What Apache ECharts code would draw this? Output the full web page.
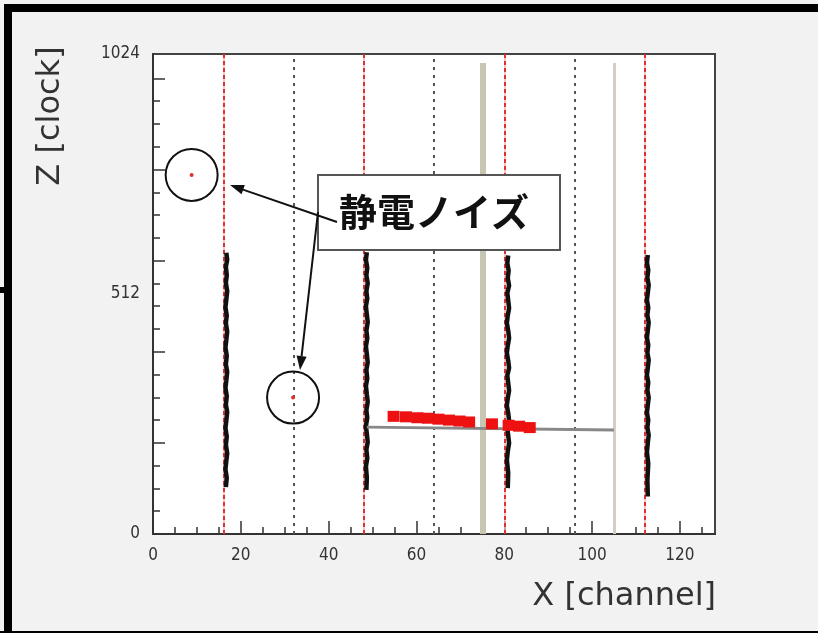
<html>
<head>
<meta charset="utf-8">
<title>静電ノイズ</title>
<script src="https://cdn.jsdelivr.net/npm/echarts@6/dist/echarts.min.js"></script>
<style>
body { margin: 0; background: #f2f2f2; }
#chart { width: 818px; height: 633px; }
</style>
</head>
<body>
<div id="chart"></div>
<script>
// 軸の目盛り
var xLabels = [0, 20, 40, 60, 80, 100, 120];
var xMinor = [5, 10, 15, 25, 30, 35, 45, 50, 55, 65, 70, 75, 85, 90, 95, 105, 110, 115, 125];
var yLabels = [0, 512, 1024];
var yMajor = [0, 194.4, 388.8, 583.2, 777.6, 972];
var yMinor = [48.6, 97.2, 145.8, 243, 291.6, 340.2, 437.4, 486, 534.6, 631.8, 680.4, 729, 826.2, 874.8, 923.4];

// ワイヤー位置 (channel)
var redWires = [16, 48, 80, 112];
var grayWires = [32, 64, 96];
var beamThick = [75];
var beamThin = [105];
var beamTop = 1005;

// 縦のトラック (channel, clock)
var track1 = [[16.7,600],[16.9,585],[16.6,570],[16.8,552],[16.6,536],[16.9,518],[16.7,500],[16.5,484],[16.8,466],[16.6,450],[16.9,432],[16.7,414],[16.5,398],[16.8,380],[16.6,362],[16.9,346],[16.7,328],[16.5,312],[16.8,294],[16.6,276],[16.9,260],[16.7,242],[16.5,226],[16.8,208],[16.6,190],[16.9,172],[16.7,156],[16.5,138],[16.8,120],[16.6,100]];
var track2 = [[48.7,601],[48.5,585],[48.8,568],[48.6,552],[48.9,535],[48.6,518],[48.8,502],[48.5,486],[48.7,468],[48.9,452],[48.6,434],[48.8,418],[48.5,400],[48.7,384],[48.9,366],[48.6,350],[48.8,332],[48.5,316],[48.7,298],[48.9,282],[48.6,264],[48.8,248],[48.5,230],[48.7,214],[48.9,196],[48.6,180],[48.8,162],[48.5,144],[48.7,120],[48.6,94]];
var track3 = [[80.9,594],[80.7,578],[81.0,562],[80.8,546],[81.1,530],[80.7,514],[80.9,498],[81.1,482],[80.8,466],[80.6,450],[80.9,434],[81.1,418],[80.8,402],[80.6,386],[80.9,370],[81.1,354],[80.7,338],[80.9,322],[81.1,306],[80.8,290],[80.6,274],[80.9,258],[81.1,242],[80.7,226],[80.9,210],[81.1,194],[80.8,176],[80.6,158],[80.9,130],[80.8,98]];
var track4 = [[112.7,595],[112.5,579],[112.8,563],[112.6,547],[112.9,531],[112.7,515],[112.5,499],[112.8,483],[112.6,467],[112.9,451],[112.7,435],[112.5,419],[112.8,403],[112.6,387],[112.9,371],[112.7,355],[112.5,339],[112.8,323],[112.6,307],[112.9,291],[112.7,275],[112.5,259],[112.8,243],[112.6,227],[112.9,211],[112.7,195],[112.5,175],[112.8,150],[112.6,115],[112.7,80]];

// 横のトラック (灰色) と赤いヒット
var grayTrack = [[48.7,228],[105,222]];
var redHits = [[54.8,251],[57.6,250],[60.2,248],[62.6,247],[65.0,245],[67.4,243],[69.8,241],[72.0,239],[77.2,235],[81.0,232],[83.4,230],[85.8,227]];

// 静電ノイズ
var noise = [[8.8,766],[31.9,291]];

var fontNarrow = "'Liberation Sans Narrow', 'DejaVu Sans Condensed', sans-serif";
var fontTitle = "'DejaVu Sans', sans-serif";

var chart = echarts.init(document.getElementById('chart'));

function wireLine(values, style, z) {
	return {
		type: 'line', xAxisIndex: 0, yAxisIndex: 0, data: [], silent: true, z: z,
		markLine: {
			silent: true, symbol: 'none', label: { show: false }, animation: false,
			lineStyle: style,
			data: values.map(function (v) { return { xAxis: v }; })
		}
	};
}

function beamLine(values, style, z) {
	return {
		type: 'line', xAxisIndex: 0, yAxisIndex: 0, data: [], silent: true, z: z,
		markLine: {
			silent: true, symbol: 'none', label: { show: false }, animation: false,
			lineStyle: style,
			data: values.map(function (v) { return [{ coord: [v, 0] }, { coord: [v, beamTop] }]; })
		}
	};
}

function trackLine(data) {
	return {
		type: 'line', xAxisIndex: 0, yAxisIndex: 0, data: data, symbol: 'none', z: 5,
		lineStyle: { color: '#111', width: 4.5 }
	};
}

var option = {
	animation: false,
	backgroundColor: '#f2f2f2',
	grid: {
		left: 153, top: 54, width: 562, height: 480,
		show: true, backgroundColor: '#fff', borderColor: '#444', borderWidth: 2,
		outerBoundsMode: 'none'
	},
	xAxis: [{
		type: 'value', min: 0, max: 128, interval: 20, position: 'bottom',
		axisLine: { show: true, lineStyle: { color: '#333', width: 2 } },
		axisTick: { show: true, inside: true, length: 13, customValues: xLabels, lineStyle: { color: '#333', width: 1.5 } },
		axisLabel: { customValues: xLabels, fontSize: 17, color: '#333', margin: 13, fontFamily: fontNarrow },
		splitLine: { show: false }
	}, {
		type: 'value', min: 0, max: 128, position: 'bottom',
		axisLine: { show: false },
		axisTick: { show: true, inside: true, length: 7, customValues: xMinor, lineStyle: { color: '#333', width: 1.5 } },
		axisLabel: { show: false },
		splitLine: { show: false }
	}],
	yAxis: [{
		type: 'value', min: 0, max: 1024, position: 'left',
		axisLine: { show: true, lineStyle: { color: '#333', width: 2 } },
		axisTick: { show: true, inside: true, length: 12, customValues: yMajor, lineStyle: { color: '#333', width: 1.5 } },
		axisLabel: {
			customValues: yLabels, fontSize: 17, color: '#333', margin: 13, fontFamily: fontNarrow,
			formatter: function (v) { return String(v); }
		},
		splitLine: { show: false }
	}, {
		type: 'value', min: 0, max: 1024, position: 'left',
		axisLine: { show: false },
		axisTick: { show: true, inside: true, length: 7, customValues: yMinor, lineStyle: { color: '#333', width: 1.5 } },
		axisLabel: { show: false },
		splitLine: { show: false }
	}],
	series: [
		wireLine(redWires, { color: '#f4b0b0', width: 1.5, type: 'solid' }, 1),
		wireLine(redWires, { color: '#e03030', width: 2, type: [4, 3] }, 2),
		wireLine(grayWires, { color: '#555', width: 2, type: [3, 5] }, 2),
		beamLine(beamThick, { color: '#c6c6b2', width: 6, type: 'solid' }, 3),
		beamLine(beamThin, { color: '#d6cec4', width: 3, type: 'solid' }, 3),
		trackLine(track1),
		trackLine(track2),
		trackLine(track3),
		trackLine(track4),
		{
			type: 'line', data: grayTrack, symbol: 'none', z: 6,
			lineStyle: { color: '#888', width: 3 }
		},
		{
			type: 'scatter', data: redHits, symbol: 'rect', symbolSize: [12, 11], z: 7,
			itemStyle: { color: '#ee1111', opacity: 1 }
		},
		{
			type: 'scatter', data: noise, symbol: 'circle', symbolSize: 4, z: 7,
			itemStyle: { color: '#e03030', opacity: 1 }
		},
		{
			type: 'scatter', data: noise, symbol: 'circle', symbolSize: 52, z: 8,
			itemStyle: { color: 'rgba(0,0,0,0)', borderColor: '#111', borderWidth: 2, opacity: 1 }
		}
	],
	graphic: [
		// 外枠
		{ type: 'rect', shape: { x: 4, y: 4, width: 8, height: 629 }, style: { fill: '#000' }, z: 100 },
		{ type: 'rect', shape: { x: 4, y: 4, width: 814, height: 8 }, style: { fill: '#000' }, z: 100 },
		{ type: 'rect', shape: { x: 0, y: 631, width: 818, height: 2 }, style: { fill: '#000' }, z: 100 },
		{ type: 'rect', shape: { x: 0, y: 287, width: 4, height: 6 }, style: { fill: '#000' }, z: 100 },
		// 軸タイトル
		{
			type: 'text', x: 716, y: 597, z: 100,
			style: { text: 'X [channel]', fontSize: 32, fontFamily: fontTitle, fill: '#333', align: 'right', verticalAlign: 'middle' }
		},
		{
			type: 'text', x: 51, y: 116, rotation: Math.PI / 2, z: 100,
			style: { text: 'Z [clock]', fontSize: 32, fontFamily: fontTitle, fill: '#333', align: 'center', verticalAlign: 'middle' }
		},
		// 注釈ボックス
		{
			type: 'rect', shape: { x: 318, y: 175, width: 242, height: 75 }, z: 110,
			style: { fill: '#fff', stroke: '#555', lineWidth: 2 }
		},
		{
			type: 'text', x: 434, y: 212, z: 111,
			style: { text: '静電ノイズ', fontSize: 38, fontWeight: 'bold', fontFamily: "'Noto Sans CJK JP', sans-serif", fill: '#111', align: 'center', verticalAlign: 'middle' }
		},
		// 矢印
		{ type: 'line', shape: { x1: 337, y1: 222, x2: 243, y2: 189.6 }, style: { stroke: '#111', lineWidth: 2 }, z: 112 },
		{ type: 'polygon', shape: { points: [[230, 185], [244.8, 184.9], [241.6, 194.3]] }, style: { fill: '#111' }, z: 112 },
		{ type: 'line', shape: { x1: 318, y1: 212, x2: 301.6, y2: 356.1 }, style: { stroke: '#111', lineWidth: 2 }, z: 112 },
		{ type: 'polygon', shape: { points: [[300, 370], [306.6, 356.7], [296.6, 355.5]] }, style: { fill: '#111' }, z: 112 }
	]
};

chart.setOption(option);
</script>
</body>
</html>
